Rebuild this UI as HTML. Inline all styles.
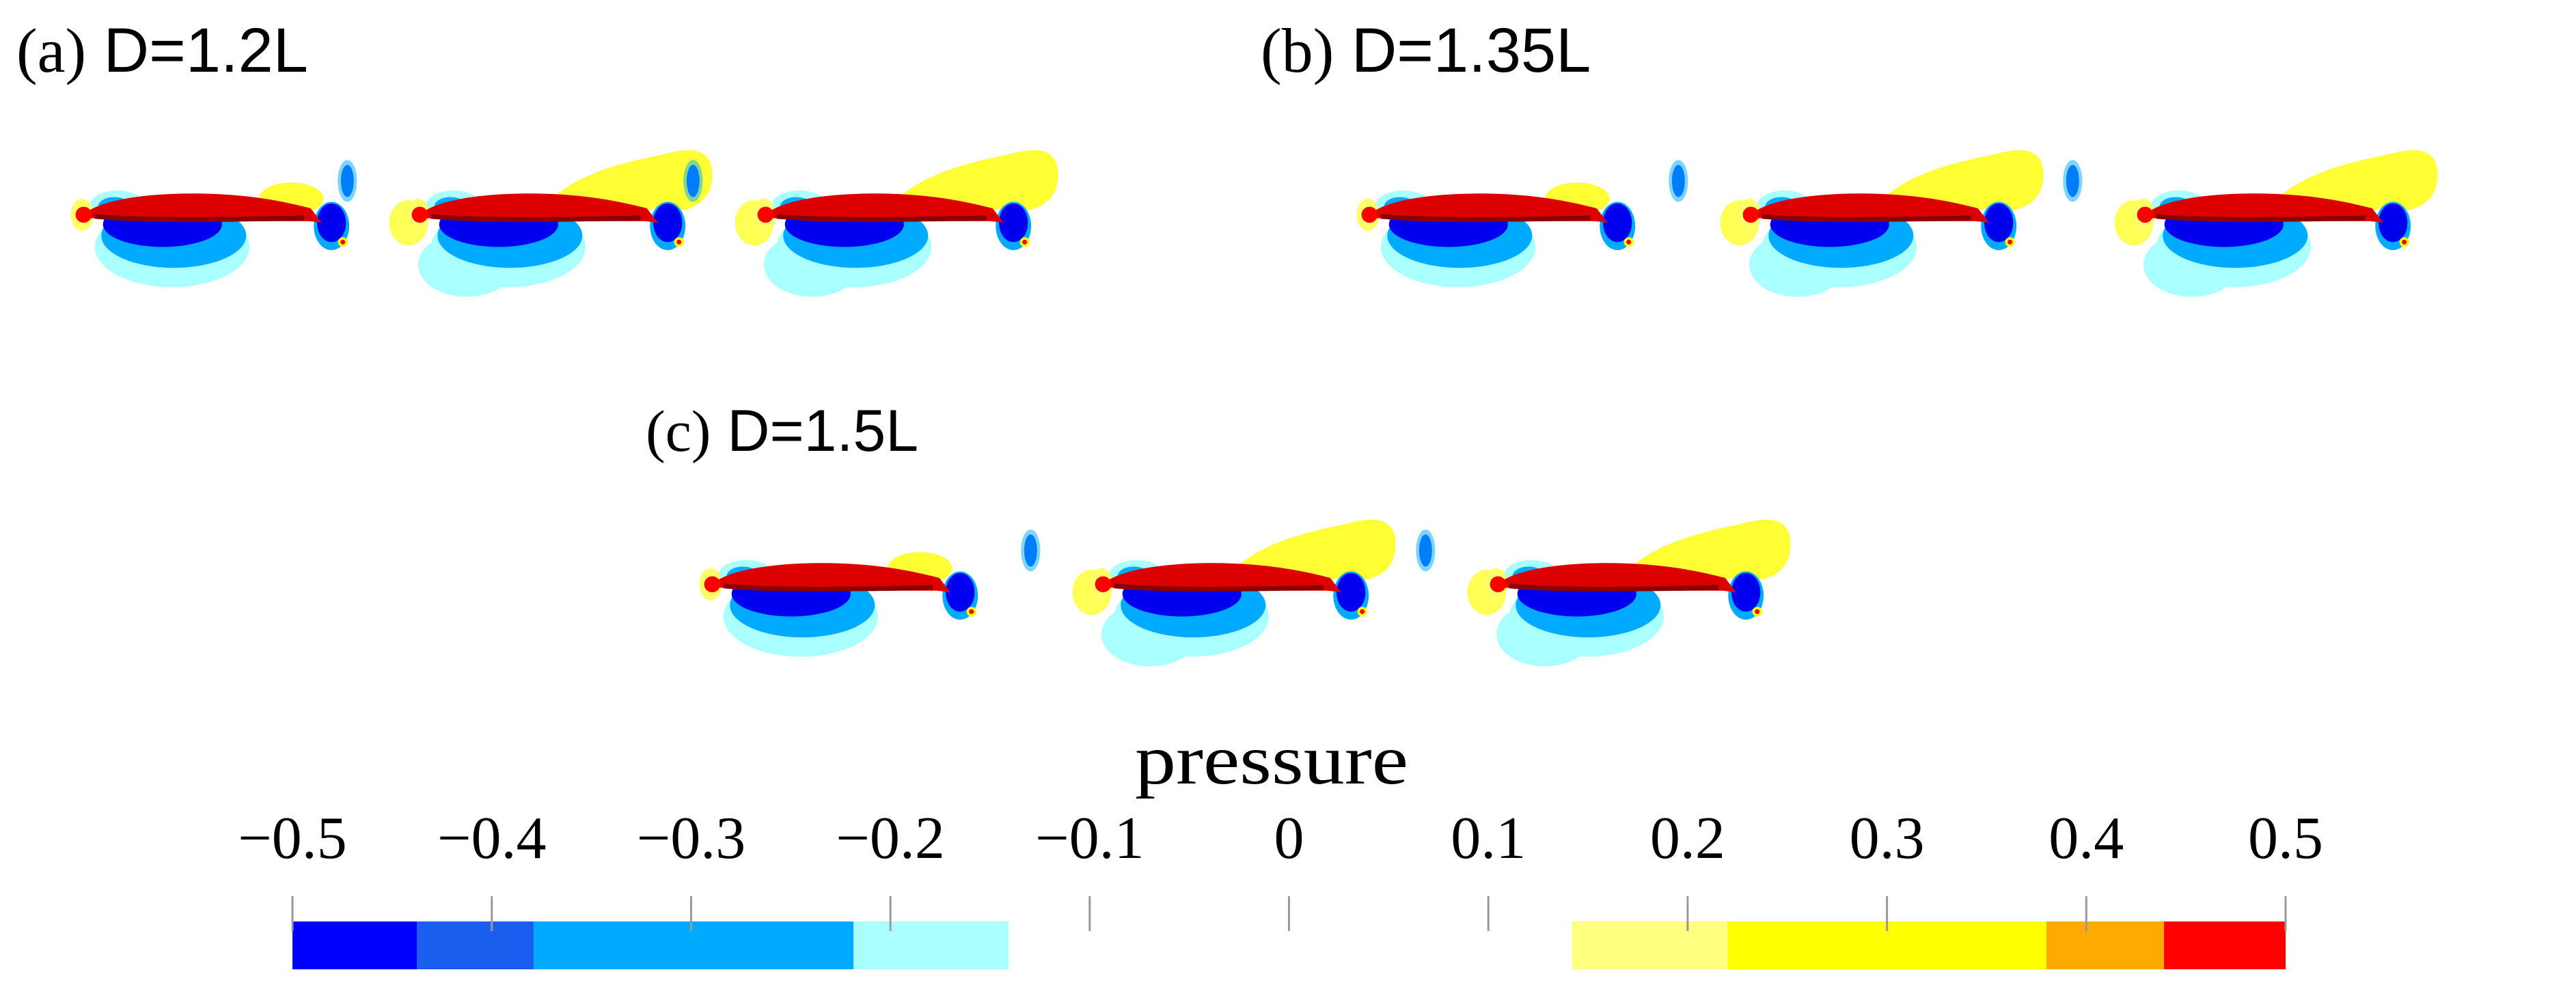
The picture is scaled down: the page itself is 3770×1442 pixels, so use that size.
<!DOCTYPE html>
<html><head><meta charset="utf-8"><style>
html,body{margin:0;padding:0;background:#fff;}
svg{display:block;}
</style></head><body>
<svg id="fig" width="3770" height="1442" viewBox="0 0 3770 1442" xmlns="http://www.w3.org/2000/svg">
<defs>
<g id="wake">
  <path d="M80,-6 C95,-22 120,-30 150,-36 C165,-40 178,-42 182,-30 C185,-15 178,-5 165,-2 Z" fill="#ffff33"/>
  <ellipse cx="-6" cy="6" rx="12" ry="14" fill="#ffff55"/>
  <ellipse cx="-44" cy="-20" rx="4" ry="10" fill="#0050f0"/>
  <ellipse cx="-44" cy="-20" rx="6" ry="13" fill="#00aaff" opacity="0.5"/>
  <ellipse cx="30" cy="32" rx="30" ry="20" fill="#aaffff"/>
</g>
<g id="fish">
  <ellipse cx="22" cy="-5" rx="17" ry="9" fill="#aaffff"/>
  <ellipse cx="56" cy="21" rx="48" ry="25" fill="#aaffff"/>
  <ellipse cx="57" cy="14" rx="45" ry="20" fill="#00aaff"/>
  <ellipse cx="20" cy="-4" rx="10" ry="6" fill="#00aaff"/>
  <ellipse cx="50" cy="7" rx="37" ry="14" fill="#0000ee"/>
  <ellipse cx="130" cy="-9" rx="20" ry="10" fill="#ffff33"/>
  <ellipse cx="0" cy="1" rx="7" ry="10" fill="#ffff66"/>
  <ellipse cx="155" cy="8" rx="11" ry="15" fill="#00aaff"/>
  <ellipse cx="155" cy="6" rx="9" ry="12" fill="#0000ee"/>
  <circle cx="162" cy="18" r="3" fill="#ffff00"/>
  <circle cx="162" cy="18" r="1.5" fill="#ff0000"/>
  <path d="M2,0 C15,-10 50,-13 80,-12 C110,-11 130,-6 142,-3 L149,6 L141,5 C100,5 40,5 4,3 Z" fill="#dd0000"/>
  <path d="M8,2 C40,5 90,4 138,3" stroke="#8a0000" stroke-width="3" fill="none"/>
  <circle cx="1" cy="1" r="5" fill="#ff0000"/>
</g>
</defs>
<g font-family="'Liberation Sans', sans-serif" font-size="92" fill="#000">
  <text x="24" y="105"><tspan font-family="'Liberation Serif', serif">(a)</tspan> D=1.2L</text>
  <text x="1845" y="105"><tspan font-family="'Liberation Serif', serif">(b)</tspan> D=1.35L</text>
  <text x="945" y="660" font-size="86"><tspan font-family="'Liberation Serif', serif">(c)</tspan> D=1.5L</text>
</g>
<g id="fishes"></g>
<g id="cbar"></g>
<text x="1861" y="1147" text-anchor="middle" textLength="400" lengthAdjust="spacingAndGlyphs" font-family="'Liberation Serif', serif" font-size="104" fill="#000">pressure</text>
</svg>
<script>
const fishNoseX = [120, 612, 1118, 2002, 2560, 3137, 1040, 1612, 2190];
const fishNoseY = [312, 312, 312, 312, 312, 312, 853, 853, 853];
const fishTrailing = [0, 1, 1, 0, 1, 1, 0, 1, 1];
const levelEdges = [-0.5, -0.4376, -0.379, -0.2185, -0.1407, 0.142, 0.22, 0.38, 0.439, 0.5];
const levelColors = ['#0000ff', '#1a5ef0', '#00aaff', '#aaffff', null, '#ffff80', '#ffff00', '#ffaa00', '#ff0000'];
const tickValues = [-0.5, -0.4, -0.3, -0.2, -0.1, 0, 0.1, 0.2, 0.3, 0.4, 0.5];
const tickLabels = ['\u22120.5', '\u22120.4', '\u22120.3', '\u22120.2', '\u22120.1', '0', '0.1', '0.2', '0.3', '0.4', '0.5'];

const NS = 'http://www.w3.org/2000/svg';
const x0 = 428, x1 = 3345;
function xs(v) { return x0 + (v + 0.5) * (x1 - x0); }

const fg = document.getElementById('fishes');
fishNoseX.forEach((fx, i) => {
  if (fishTrailing[i]) {
    const w = document.createElementNS(NS, 'use');
    w.setAttribute('href', '#wake');
    w.setAttribute('transform', `translate(${fx},${fishNoseY[i]}) scale(2.356)`);
    
    
    fg.appendChild(w);
  }
  const u = document.createElementNS(NS, 'use');
  u.setAttribute('href', '#fish');
  u.setAttribute('transform', `translate(${fx},${fishNoseY[i]}) scale(2.356)`);
  
  
  fg.appendChild(u);
});

const cb = document.getElementById('cbar');
for (let i = 0; i < levelColors.length; i++) {
  if (!levelColors[i]) continue;
  const r = document.createElementNS(NS, 'rect');
  r.setAttribute('x', xs(levelEdges[i]));
  r.setAttribute('y', 1349);
  r.setAttribute('width', xs(levelEdges[i + 1]) - xs(levelEdges[i]));
  r.setAttribute('height', 70);
  r.setAttribute('fill', levelColors[i]);
  
  
  cb.appendChild(r);
}
tickValues.forEach((v, i) => {
  const l = document.createElementNS(NS, 'line');
  l.setAttribute('x1', xs(v)); l.setAttribute('x2', xs(v));
  l.setAttribute('y1', 1312); l.setAttribute('y2', 1363);
  l.setAttribute('stroke', '#999'); l.setAttribute('stroke-width', '3');
  
  
  cb.appendChild(l);
  const t = document.createElementNS(NS, 'text');
  t.setAttribute('x', xs(v)); t.setAttribute('y', 1256);
  t.setAttribute('text-anchor', 'middle');
  t.setAttribute('font-family', "'Liberation Serif', serif");
  t.setAttribute('font-size', '88');
  t.textContent = tickLabels[i];
  
  
  cb.appendChild(t);
});
</script>
</body></html>
